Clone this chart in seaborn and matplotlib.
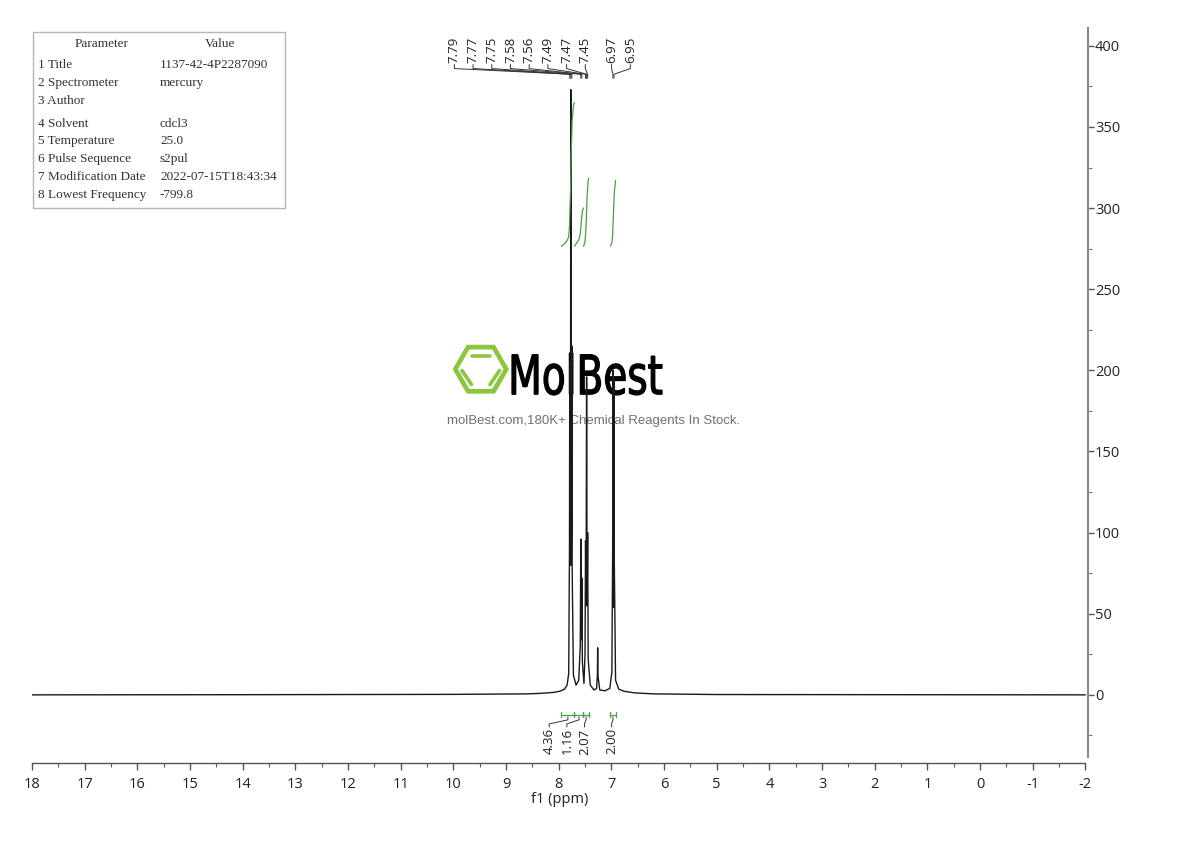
import numpy as np
import pandas as pd
import matplotlib
matplotlib.use("Agg")
import matplotlib.pyplot as plt
import seaborn as sns
from matplotlib.patches import Rectangle, RegularPolygon, PathPatch
from matplotlib.textpath import TextPath
from matplotlib.font_manager import FontProperties
from matplotlib.ticker import MultipleLocator
import matplotlib.transforms as mtransforms

# ---------------- data ----------------
shift_ppm = [18.00, 14.00, 10.00, 8.60, 8.36, 8.10, 7.98, 7.89, 7.84, 7.81,
             7.795, 7.79, 7.785, 7.78, 7.775, 7.77, 7.765, 7.76, 7.755, 7.75,
             7.745, 7.72, 7.67, 7.62, 7.59, 7.58, 7.57, 7.56, 7.55, 7.52,
             7.50, 7.49, 7.48, 7.47, 7.46, 7.45, 7.44, 7.40, 7.33, 7.28,
             7.265, 7.26, 7.255, 7.22, 7.12, 7.03, 6.99, 6.975, 6.97, 6.96,
             6.95, 6.945, 6.92, 6.86, 6.76, 6.55, 6.20, 5.00, -2.00]
intensity = [0.0, 0.1, 0.3, 0.6, 0.9, 1.5, 2.2, 3.5, 6.0, 13.0,
             90.0, 205.0, 110.0, 80.0, 150.0, 373.0, 160.0, 80.0, 110.0, 215.0,
             80.0, 12.0, 6.0, 9.0, 30.0, 96.0, 34.0, 72.0, 20.0, 7.0,
             25.0, 95.0, 55.0, 196.0, 55.0, 100.0, 22.0, 6.0, 3.0, 4.0,
             12.0, 29.0, 12.0, 3.0, 2.5, 4.0, 14.0, 90.0, 200.0, 54.0,
             195.0, 85.0, 9.0, 3.5, 2.2, 1.2, 0.6, 0.2, 0.0]

peak_ppm = [7.79, 7.77, 7.75, 7.58, 7.56, 7.49, 7.47, 7.45, 6.97, 6.95]
peak_labels = ["7.79", "7.77", "7.75", "7.58", "7.56", "7.49", "7.47", "7.45", "6.97", "6.95"]

int_from = [7.95, 7.70, 7.53, 7.02]
int_to = [7.70, 7.53, 7.43, 6.92]
int_values = [4.36, 1.16, 2.07, 2.00]
int_labels = ["4.36", "1.16", "2.07", "2.00"]

x_ticks = list(range(18, -3, -1))
x_tick_labels = [str(v) for v in x_ticks]
y_ticks = [0, 50, 100, 150, 200, 250, 300, 350, 400]

param_names = ["1 Title", "2 Spectrometer", "3 Author", "4 Solvent", "5 Temperature",
               "6 Pulse Sequence", "7 Modification Date", "8 Lowest Frequency"]
param_values = ["1137-42-4P2287090", "mercury", "", "cdcl3", "25.0",
                "s2pul", "2022-07-15T18:43:34", "-799.8"]

# ---------------- style ----------------
sns.set_theme(style="white")
plt.rcParams["font.family"] = ["Open Sans", "DejaVu Sans"]
plt.rcParams["axes.unicode_minus"] = False

W, H = 1190, 841
fig = plt.figure(figsize=(W / 100, H / 100), dpi=100)
fig.patch.set_facecolor("white")

# background overlay in pixel coordinates (watermark + table)
bg = fig.add_axes([0, 0, 1, 1], zorder=0)
bg.set_xlim(0, W)
bg.set_ylim(H, 0)
bg.axis("off")

# main axes
left, right, bottom, top = 32 / W, 1088 / W, 1 - 763 / H, 1 - 28 / H
ax = fig.add_axes([left, bottom, right - left, top - bottom], zorder=1)
ax.patch.set_alpha(0)

SPEC_COLOR = "#1a1a1a"
INT_COLOR = "#4c9e48"

df = pd.DataFrame({"ppm": shift_ppm, "intensity": intensity})
sns.lineplot(data=df, x="ppm", y="intensity", sort=False, estimator=None,
             color=SPEC_COLOR, linewidth=1.0, ax=ax)

ax.set_xlim(18, -2.05)
ax.set_ylim(-42, 411)

# ---------------- integral curves ----------------
x_arr = np.array(shift_ppm)
y_arr = np.array(intensity)
INT_BASE = 276.5
INT_SCALE = 20.3
for a, b, v in zip(int_from, int_to, int_values):
    m = (x_arr < a) & (x_arr > b)
    xs = np.concatenate([[a], x_arr[m], [b]])
    ys = np.concatenate([[np.interp(a, x_arr[::-1], y_arr[::-1])], y_arr[m],
                         [np.interp(b, x_arr[::-1], y_arr[::-1])]])
    seg = 0.5 * (ys[1:] + ys[:-1]) * np.abs(np.diff(xs))
    cum = np.concatenate([[0], np.cumsum(seg)])
    cum = cum / cum[-1]
    ax.plot(xs, INT_BASE + v * INT_SCALE * cum, color=INT_COLOR, lw=0.9)

# ---------------- integral brackets + labels (bottom) ----------------
yb = -12.3
int_label_x = [8.18, 7.845, 7.51, 6.995]
for a, b, lx, lab in zip(int_from, int_to, int_label_x, int_labels):
    ax.plot([a, b], [yb, yb], color=INT_COLOR, lw=0.9)
    ax.plot([a, a], [yb - 1.6, yb + 1.6], color=INT_COLOR, lw=0.9)
    ax.plot([b, b], [yb - 1.6, yb + 1.6], color=INT_COLOR, lw=0.9)
    cx = 0.5 * (a + b)
    ax.plot([cx, cx, lx, lx], [yb - 1.3, -15.4, -17.9, -19.8], color="#333333", lw=0.7)
    ax.text(lx, -20.6, lab, rotation=90, ha="center", va="top", fontsize=9.5,
            color="#222222")

# ---------------- peak labels (top) ----------------
peak_label_x = [9.98 - 0.355 * i for i in range(8)] + [6.995, 6.64]
for px, lx, lab in zip(peak_ppm, peak_label_x, peak_labels):
    ax.plot([lx, lx, px, px], [388.5, 386.0, 382.5, 380.0], color="#333333", lw=0.7)
    ax.text(lx, 389.6, lab, rotation=90, ha="center", va="bottom", fontsize=9.5,
            color="#222222")

# ---------------- axes styling ----------------
for s in ["left", "top"]:
    ax.spines[s].set_visible(False)
ax.spines["bottom"].set_color("#555555")
ax.spines["bottom"].set_linewidth(1.0)
ax.spines["bottom"].set_bounds(-2, 18)
ax.spines["right"].set_color("#8a8a8a")
ax.spines["right"].set_linewidth(1.5)
ax.spines["right"].set_bounds(-38, 411)

ax.set_xticks(x_ticks)
ax.set_xticklabels(x_tick_labels)
ax.xaxis.set_minor_locator(MultipleLocator(0.5))
ax.tick_params(axis="x", which="major", direction="out", length=5, width=1,
               color="#555555", labelsize=10.5, labelcolor="#222222", pad=5, bottom=True)
ax.tick_params(axis="x", which="minor", direction="out", length=3, width=0.8,
               color="#555555", bottom=True)

ax.yaxis.tick_right()
ax.set_yticks(y_ticks)
ax.set_yticklabels([str(v) for v in y_ticks])
ax.yaxis.set_minor_locator(MultipleLocator(25))
ax.tick_params(axis="y", which="major", direction="out", length=4, width=1,
               color="#555555", labelsize=10.5, labelcolor="#222222", pad=1, right=True, left=False)
ax.tick_params(axis="y", which="minor", direction="out", length=3, width=0.8,
               color="#777777", right=True, left=False)
ax.set_ylabel("")
ax.set_xlabel("f1 (ppm)", fontsize=10.5, color="#222222", labelpad=0)

# ---------------- parameter table ----------------
bg.add_patch(Rectangle((33, 32), 252, 176, fill=False, edgecolor="#b5b5b5", lw=1.0))
tfont = dict(family=["Liberation Serif", "DejaVu Serif"], fontsize=9.5, color="#333333")
bg.text(101.7, 43.5, "Parameter", ha="center", va="center", **tfont)
bg.text(219.7, 43.5, "Value", ha="center", va="center", **tfont)
row_y = [65.3, 83.0, 100.7, 123.5, 141.3, 159.0, 176.8, 194.5]
for yy, n, v in zip(row_y, param_names, param_values):
    bg.text(38, yy, n, ha="left", va="center", **tfont)
    bg.text(160, yy, v, ha="left", va="center", **tfont)

# ---------------- watermark ----------------
GREEN = "#8cc63f"
bg.add_patch(RegularPolygon((480.8, 369.2), numVertices=6, radius=25.5,
                            orientation=np.pi / 6, fill=False, edgecolor=GREEN, lw=3.4))
for (x0, y0, x1, y1) in [(471.5, 355.5, 490, 355.5), (462, 370.5, 471.5, 384.5),
                         (499.5, 370.5, 490, 384.5)]:
    bg.plot([x0, x1], [y0, y1], color=GREEN, lw=2.6, solid_capstyle="round")

tp = TextPath((0, 0), "MolBest", size=50,
              prop=FontProperties(family="DejaVu Sans", weight="normal"))
ext = tp.get_extents()
tx0, tx1, ty0, ty1 = 512, 662, 395, 353
tr = (mtransforms.Affine2D().translate(-ext.x0, -ext.y0)
      .scale((tx1 - tx0) / ext.width, (ty1 - ty0) / ext.height)
      .translate(tx0, ty0))
bg.add_patch(PathPatch(tr.transform_path(tp), facecolor="black", edgecolor="black", lw=0.9))
bg.text(594, 421, "molBest.com,180K+ Chemical Reagents In Stock.", ha="center", va="center",
        fontsize=9.5, color="#707070", family=["Liberation Sans", "DejaVu Sans"])

fig.savefig("out.png", dpi=100)
